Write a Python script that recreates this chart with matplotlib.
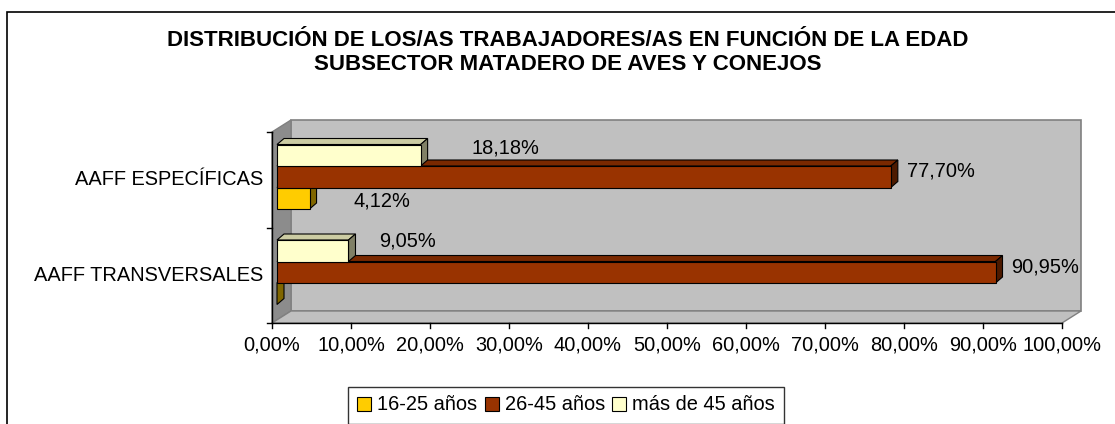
import matplotlib
matplotlib.use("Agg")
import matplotlib.pyplot as plt
from matplotlib.patches import Polygon, Rectangle
from matplotlib.lines import Line2D

plt.rcParams['font.family'] = ['Liberation Sans', 'DejaVu Sans']

# ---- data -------------------------------------------------------------
categories = ["AAFF TRANSVERSALES", "AAFF ESPECÍFICAS"]
series_names = ["16-25 años", "26-45 años", "más de 45 años"]
vals_16_25 = [0.00, 4.12]
vals_26_45 = [90.95, 77.70]
vals_mas_45 = [9.05, 18.18]
x_ticks = [0, 10, 20, 30, 40, 50, 60, 70, 80, 90, 100]
x_tick_labels = ["0,00%", "10,00%", "20,00%", "30,00%", "40,00%", "50,00%",
                 "60,00%", "70,00%", "80,00%", "90,00%", "100,00%"]
title_lines = ["DISTRIBUCIÓN DE LOS/AS TRABAJADORES/AS EN FUNCIÓN DE LA EDAD",
               "SUBSECTOR MATADERO DE AVES Y CONEJOS"]

# ---- styling ------------------------------------------------------------
face_colors = ["#FFCC00", "#993300", "#FFFFCC"]
top_colors = ["#CCA300", "#7A2900", "#CCCCA3"]
side_colors = ["#806600", "#4D1A00", "#808066"]
FS = 14.4

W, H = 1115, 424
DPI = 100
fig = plt.figure(figsize=(W / DPI, H / DPI), dpi=DPI)
fig.patch.set_facecolor("white")

# front plane of the plot area in pixels
X0, X1 = 272, 1062
YB, YT = 323, 132
ax = fig.add_axes([X0 / W, 1 - YB / H, (X1 - X0) / W, (YB - YT) / H])
ax.set_xlim(0, 100)
ax.set_ylim(-0.5, 1.5)
ax.axis("off")

sx = 100.0 / (X1 - X0)        # data units per px in x
sy = 2.0 / (YB - YT)          # data units per px in y

def P(x, y, dx=0.0, dy=0.0):
    return (x + dx * sx, y + dy * sy)

# depth of the walls (px)
WDX, WDY = 19, 12
gray_wall = "#C0C0C0"
edge_gray = "#808080"

# back wall
ax.add_patch(Polygon([P(0, -0.5, WDX, WDY), P(100, -0.5, WDX, WDY),
                      P(100, 1.5, WDX, WDY), P(0, 1.5, WDX, WDY)],
                     closed=True, facecolor=gray_wall, edgecolor=edge_gray,
                     lw=1.2, clip_on=False, zorder=0))
# left side wall
ax.add_patch(Polygon([P(0, -0.5), P(0, -0.5, WDX, WDY),
                      P(0, 1.5, WDX, WDY), P(0, 1.5)],
                     closed=True, facecolor="#8C8C8C", edgecolor=edge_gray,
                     lw=1.0, clip_on=False, zorder=0.5))
# floor
ax.add_patch(Polygon([P(0, -0.5), P(100, -0.5),
                      P(100, -0.5, WDX, WDY), P(0, -0.5, WDX, WDY)],
                     closed=True, facecolor=gray_wall, edgecolor=edge_gray,
                     lw=1.0, clip_on=False, zorder=0.5))

# axes lines and ticks
ax.add_line(Line2D([0, 0], [-0.5, 1.5], color="black", lw=1.0, clip_on=False, zorder=5))
ax.add_line(Line2D([0, 100], [-0.5, -0.5], color="black", lw=1.0, clip_on=False, zorder=5))
for t, lab in zip(x_ticks, x_tick_labels):
    ax.add_line(Line2D([t, t], [-0.5, -0.5 - 5 * sy], color="black", lw=1.0,
                       clip_on=False, zorder=5))
    ax.text(t, -0.5 - 22 * sy, lab, ha="center", va="center", fontsize=FS,
            color="black")
for yb in [-0.5, 0.5, 1.5]:
    ax.add_line(Line2D([0, -5 * sx], [yb, yb], color="black", lw=1.0,
                       clip_on=False, zorder=5))
for i, c in enumerate(categories):
    ax.text(-9 * sx, i, c, ha="right", va="center", fontsize=FS, color="black")

# 3D bars
BH = 21.5 * sy           # bar thickness
BOX, BOY = 5, 3          # offset of bar front face from the front plane (px)
BDX, BDY = 7, 6          # bar depth (px)
series = [vals_16_25, vals_26_45, vals_mas_45]
for s, vals in enumerate(series):
    for i, v in enumerate(vals):
        y0 = i + (s - 1.5) * BH
        y1 = y0 + BH
        x0, x1 = 0.0, v
        front = [P(x0, y0, BOX, BOY), P(x1, y0, BOX, BOY),
                 P(x1, y1, BOX, BOY), P(x0, y1, BOX, BOY)]
        top = [P(x0, y1, BOX, BOY), P(x1, y1, BOX, BOY),
               P(x1, y1, BOX + BDX, BOY + BDY), P(x0, y1, BOX + BDX, BOY + BDY)]
        side = [P(x1, y0, BOX, BOY), P(x1, y0, BOX + BDX, BOY + BDY),
                P(x1, y1, BOX + BDX, BOY + BDY), P(x1, y1, BOX, BOY)]
        z = 2 + s * 0.1
        ax.add_patch(Polygon(top, closed=True, facecolor=top_colors[s],
                             edgecolor="black", lw=0.8, clip_on=False, zorder=z))
        ax.add_patch(Polygon(side, closed=True, facecolor=side_colors[s],
                             edgecolor="black", lw=0.8, clip_on=False, zorder=z))
        if v > 0:
            ax.add_patch(Polygon(front, closed=True, facecolor=face_colors[s],
                                 edgecolor="black", lw=0.8, clip_on=False,
                                 zorder=z + 0.05))

# value labels (offsets in px from the bar end / centre)
label_offsets = {
    (2, 1): (51, 7), (1, 1): (16, 6), (0, 1): (44, -3),
    (2, 0): (31, 10), (1, 0): (16, 5),
}
for s, vals in enumerate(series):
    for i, v in enumerate(vals):
        if v <= 0:
            continue
        ox, oy = label_offsets[(s, i)]
        yc = i + (s - 1) * BH
        txt = f"{v:.2f}%".replace(".", ",")
        ax.text(*P(v, yc, BOX + ox, BOY + oy), txt, ha="left", va="center",
                fontsize=FS, color="black", zorder=6)

# title
fig.text(568 / W, 1 - 41 / H, title_lines[0], ha="center", va="center",
         fontsize=16, fontweight="bold")
fig.text(568 / W, 1 - 65 / H, title_lines[1], ha="center", va="center",
         fontsize=16, fontweight="bold")

# legend
leg_handles = [Rectangle((0, 0), 1, 1, facecolor=c, edgecolor="black", lw=0.8)
               for c in face_colors]
leg = fig.legend(leg_handles, series_names, loc="center",
                 bbox_to_anchor=(566 / W, 1 - 405 / H), ncol=3, frameon=True,
                 fancybox=False, edgecolor="black", fontsize=FS,
                 handlelength=0.7, handleheight=0.7, handletextpad=0.3,
                 columnspacing=0.35, borderpad=0.45, borderaxespad=0)
leg.get_frame().set_linewidth(1.0)

# outer chart border
fig.add_artist(Rectangle((7 / W, -0.1), 1.2, 1 - 12 / H + 0.1,
                         transform=fig.transFigure, facecolor="none",
                         edgecolor="black", lw=1.2))

fig.savefig("out.png", dpi=DPI)
